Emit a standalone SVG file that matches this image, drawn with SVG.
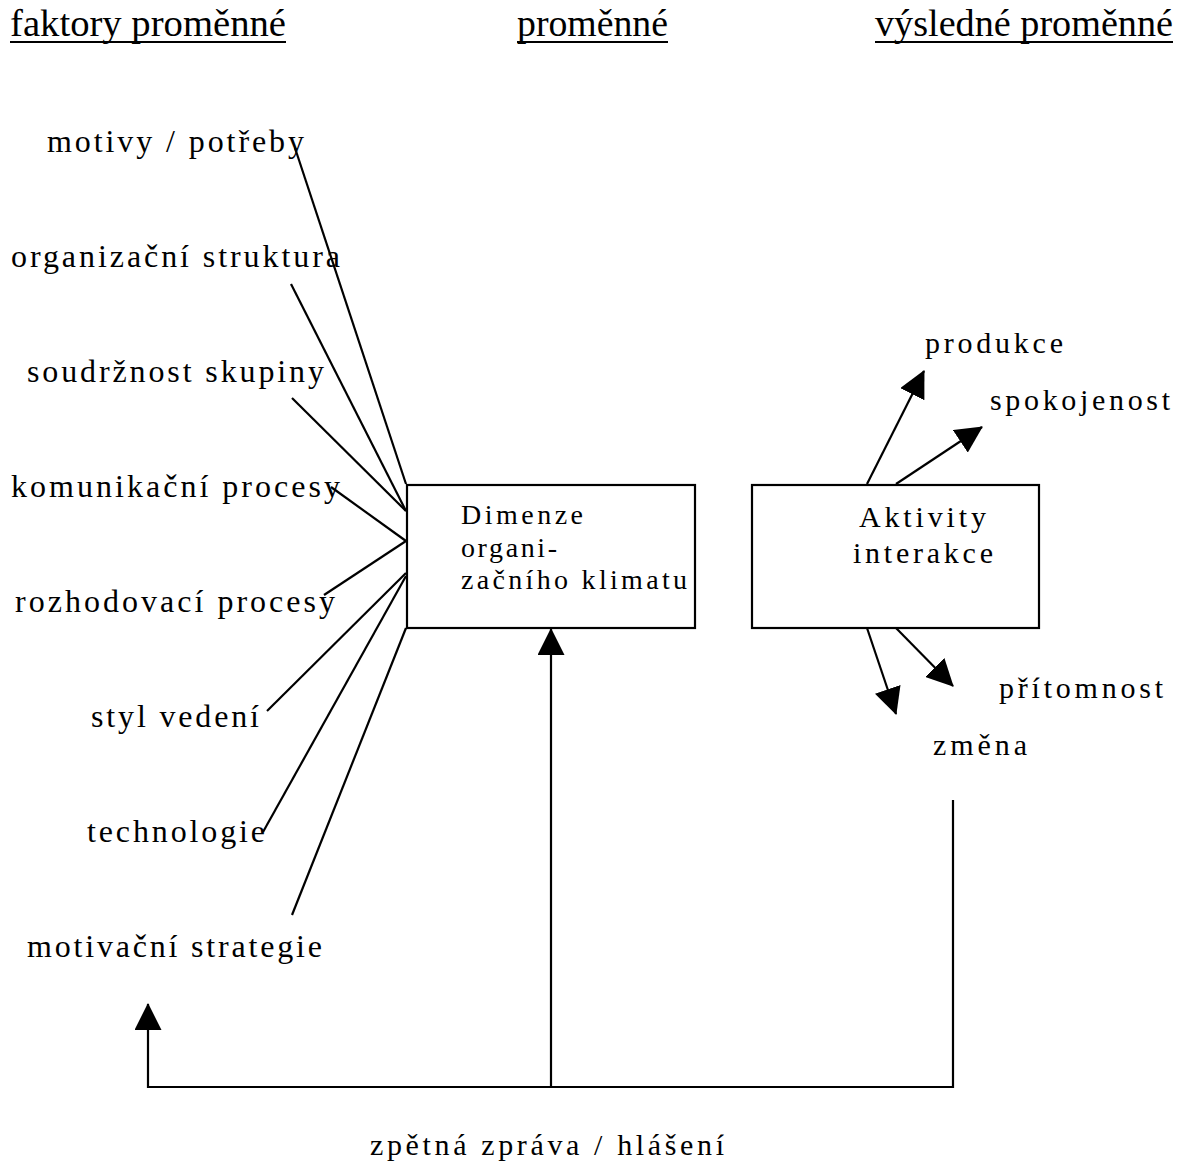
<svg xmlns="http://www.w3.org/2000/svg" width="1177" height="1163" viewBox="0 0 1177 1163">
<style>
text{font-family:"Liberation Serif","DejaVu Serif",serif;fill:#000}
.hd{font-size:38px}
.lb{font-size:32px}
.rt{font-size:30px}
.bx{font-size:28px}
.ln{stroke:#000;stroke-width:2.2;fill:none}
.box{stroke:#000;stroke-width:2.2;fill:#fff}
</style>
<defs>
<marker id="ah" markerUnits="userSpaceOnUse" markerWidth="27" markerHeight="27" refX="26" refY="13.5" orient="auto" viewBox="0 0 27 27">
<path d="M0,0 L27,13.5 L0,27 z" fill="#000"/>
</marker>
</defs>
<rect width="1177" height="1163" fill="#fff"/>

<g id="headers">
<text class="hd" x="10" y="36" textLength="276" lengthAdjust="spacingAndGlyphs">faktory proměnné</text>
<rect x="10" y="41" width="276" height="2" fill="#000"/>
<text class="hd" x="517" y="36" textLength="151" lengthAdjust="spacingAndGlyphs">proměnné</text>
<rect x="517" y="41" width="151" height="2" fill="#000"/>
<text class="hd" x="875" y="36" textLength="298" lengthAdjust="spacingAndGlyphs">výsledné proměnné</text>
<rect x="875" y="41" width="298" height="2" fill="#000"/>
</g>

<g id="connectors">
<line class="ln" x1="295" y1="148" x2="406" y2="484"/>
<line class="ln" x1="291" y1="284" x2="406" y2="511"/>
<line class="ln" x1="292" y1="398" x2="406" y2="511"/>
<line class="ln" x1="331" y1="487" x2="406" y2="541"/>
<line class="ln" x1="324" y1="595" x2="406" y2="541"/>
<line class="ln" x1="267" y1="711" x2="406" y2="573"/>
<line class="ln" x1="263" y1="832" x2="406" y2="576"/>
<line class="ln" x1="292" y1="915" x2="406" y2="628"/>
<line class="ln" x1="867" y1="484" x2="924" y2="371" marker-end="url(#ah)"/>
<line class="ln" x1="896" y1="484" x2="982" y2="427" marker-end="url(#ah)"/>
<line class="ln" x1="867" y1="628" x2="896" y2="714" marker-end="url(#ah)"/>
<line class="ln" x1="896" y1="628" x2="953" y2="686" marker-end="url(#ah)"/>
<polyline class="ln" points="953,800 953,1087 148,1087 148,1004" marker-end="url(#ah)"/>
<line class="ln" x1="551" y1="1087" x2="551" y2="629" marker-end="url(#ah)"/>
</g>

<g id="n-motivy"><text class="lb" x="47" y="152" textLength="257" lengthAdjust="spacing">motivy / potřeby</text></g>
<g id="n-struktura"><text class="lb" x="11" y="267" textLength="329" lengthAdjust="spacing">organizační struktura</text></g>
<g id="n-soudrznost"><text class="lb" x="27" y="382" textLength="297" lengthAdjust="spacing">soudržnost skupiny</text></g>
<g id="n-komunikacni"><text class="lb" x="11" y="497" textLength="329" lengthAdjust="spacing">komunikační procesy</text></g>
<g id="n-rozhodovaci"><text class="lb" x="15" y="612" textLength="320" lengthAdjust="spacing">rozhodovací procesy</text></g>
<g id="n-styl"><text class="lb" x="91" y="727" textLength="168" lengthAdjust="spacing">styl vedení</text></g>
<g id="n-technologie"><text class="lb" x="87" y="842" textLength="178" lengthAdjust="spacing">technologie</text></g>
<g id="n-strategie"><text class="lb" x="27" y="957" textLength="295" lengthAdjust="spacing">motivační strategie</text></g>

<g id="n-dimenze">
<rect class="box" x="407" y="485" width="288" height="143"/>
<text class="bx" x="461" y="524" textLength="122" lengthAdjust="spacing">Dimenze</text>
<text class="bx" x="461" y="557" textLength="96" lengthAdjust="spacing">organi-</text>
<text class="bx" x="461" y="589" textLength="226" lengthAdjust="spacing">začního klimatu</text>
</g>

<g id="n-aktivity">
<rect class="box" x="752" y="485" width="287" height="143"/>
<text class="rt" x="859" y="527" textLength="127" lengthAdjust="spacing">Aktivity</text>
<text class="rt" x="853" y="563" textLength="140" lengthAdjust="spacing">interakce</text>
</g>

<g id="n-produkce"><text class="rt" x="925" y="353" textLength="138" lengthAdjust="spacing">produkce</text></g>
<g id="n-spokojenost"><text class="rt" x="990" y="410" textLength="180" lengthAdjust="spacing">spokojenost</text></g>
<g id="n-pritomnost"><text class="rt" x="999" y="698" textLength="164" lengthAdjust="spacing">přítomnost</text></g>
<g id="n-zmena"><text class="rt" x="933" y="755" textLength="94" lengthAdjust="spacing">změna</text></g>

<g id="n-zpetna"><text class="rt" x="370" y="1155" textLength="354" lengthAdjust="spacing">zpětná zpráva / hlášení</text></g>
</svg>
